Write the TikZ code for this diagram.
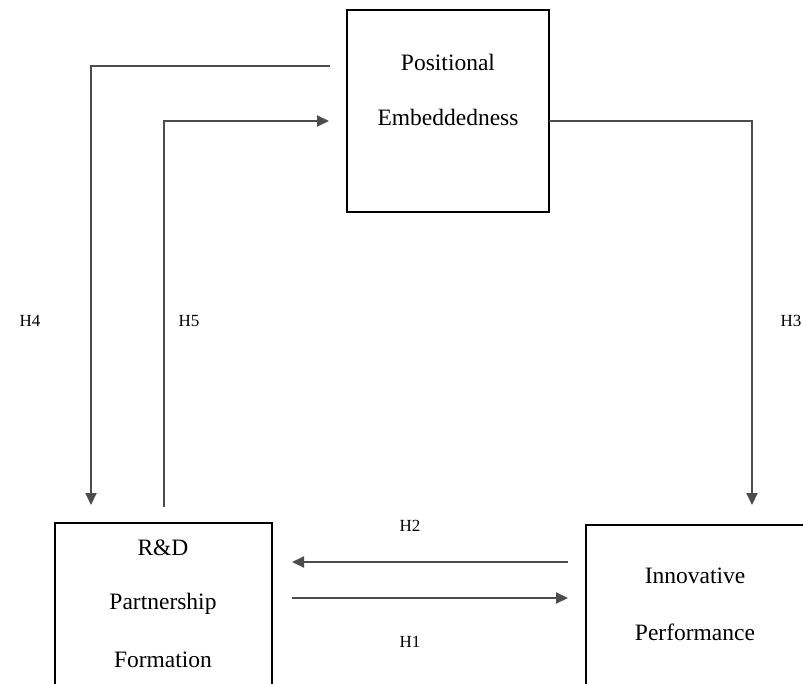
\documentclass[tikz,border=0pt]{standalone}
\usepackage{fontspec}
\setmainfont{Liberation Serif}
\usetikzlibrary{arrows.meta}
\begin{document}
\begin{tikzpicture}[x=1pt,y=-1pt,
  box/.style={draw=black,line width=1.5pt,inner sep=0pt},
  lbl/.style={inner sep=0pt,font=\fontsize{23.5}{27}\selectfont},
  hlbl/.style={inner sep=0pt,font=\fontsize{17}{20}\selectfont},
  conn/.style={draw=black!70,line width=2pt,-{Triangle[length=12pt,width=11pt]}}]
\useasboundingbox[fill=white] (0,0) rectangle (803,684);
% boxes
\node[box,minimum width=202pt,minimum height=202pt] (tb) at (448,111) {};
\node[box,minimum width=217pt,minimum height=200pt] (bl) at (163.5,623) {};
\node[box,minimum width=240pt,minimum height=200pt] (br) at (706,625) {};
% box texts
\node[lbl] (t1) at (448,62) {Positional};
\node[lbl] (t2) at (448,117) {Embeddedness};
\node[lbl] (l1) at (163,548) {R\&D};
\node[lbl] (l2) at (163,604) {Partnership};
\node[lbl] (l3) at (163,660) {Formation};
\node[lbl] (r1) at (695,576) {Innovative};
\node[lbl] (r2) at (695,632) {Performance};
% connector end points
\coordinate (h4s) at (330,66);
\coordinate (h4c) at (91,66);
\coordinate (h4e) at (91,505);
\coordinate (h5s) at (164,507);
\coordinate (h5c) at (164,121);
\coordinate (h5e) at (329,121);
\coordinate (h3s) at (549,121);
\coordinate (h3c) at (752,121);
\coordinate (h3e) at (752,505);
\coordinate (h2s) at (568,562);
\coordinate (h2e) at (292,562);
\coordinate (h1s) at (292,598);
\coordinate (h1e) at (568,598);
% connectors
\draw[conn] (h4s) -- (h4c) -- (h4e);
\draw[conn] (h5s) -- (h5c) -- (h5e);
\draw[conn] (h3s) -- (h3c) -- (h3e);
\draw[conn] (h2s) -- (h2e);
\draw[conn] (h1s) -- (h1e);
% hypothesis labels
\node[hlbl] (H4) at (30,321) {H4};
\node[hlbl] (H5) at (189,321) {H5};
\node[hlbl] (H3) at (791,321) {H3};
\node[hlbl] (H2) at (410,526) {H2};
\node[hlbl] (H1) at (410,642) {H1};
\end{tikzpicture}
\end{document}
